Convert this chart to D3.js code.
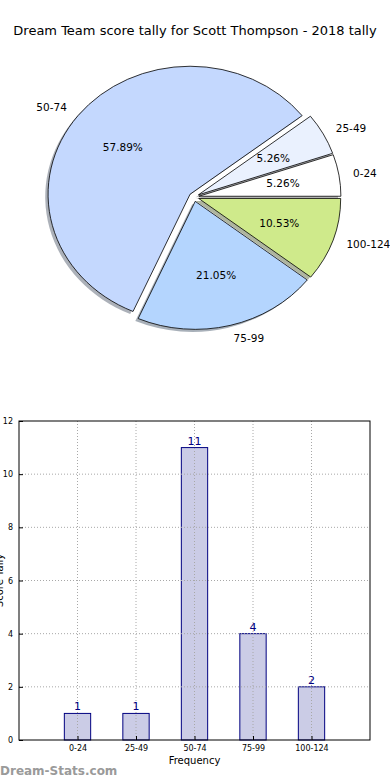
<!DOCTYPE html>
<html>
<head>
<meta charset="utf-8">
<script src="https://cdn.jsdelivr.net/npm/d3@7"></script>
<style>
  body { margin: 0; background: #fff; }
  text { font-family: "DejaVu Sans", sans-serif; }
</style>
</head>
<body>
<div id="chart"></div>
<script>
// score bands and how many games fell in each
var bands = ["0-24", "25-49", "50-74", "75-99", "100-124"];
var counts = [1, 1, 11, 4, 2];
var sliceColors = ["#ffffff", "#eaf1fe", "#c4d8fe", "#b4d5fe", "#cfea8b"];
var yTicks = [0, 2, 4, 6, 8, 10, 12];

var svgWidth = 390, svgHeight = 780;

var svg = d3.select("#chart")
  .append("svg")
  .attr("width", svgWidth)
  .attr("height", svgHeight);

svg.append("text")
  .attr("x", 195)
  .attr("y", 35)
  .attr("text-anchor", "middle")
  .attr("font-size", "13px")
  .text("Dream Team score tally for Scott Thompson - 2018 tally");

// ---------- pie (matplotlib style: counter-clockwise from 3 o'clock, squashed) ----------
var cx = 194, cy = 197, rx = 142, ry = 128;
var explode = 0.035;
var R = 100;
var total = d3.sum(counts);

var pie = d3.pie()
  .sort(null)
  .startAngle(Math.PI / 2)
  .endAngle(Math.PI / 2 - 2 * Math.PI);

var arcs = pie(counts);
var arc = d3.arc().innerRadius(0).outerRadius(R);

function offset(d, k) {
  var mid = (d.startAngle + d.endAngle) / 2;
  return [cx + explode * rx * Math.sin(mid) + k * rx * Math.sin(mid),
          cy - explode * ry * Math.cos(mid) - k * ry * Math.cos(mid)];
}

var pieGroup = svg.append("g");

// shadows first
pieGroup.selectAll("path.shadow")
  .data(arcs)
  .enter()
  .append("path")
  .classed("shadow", true)
  .attr("transform", function(d) {
    var o = offset(d, 0);
    return `translate(${o[0] - 0.02 * rx}, ${o[1] + 0.02 * ry}) scale(${rx / R}, ${ry / R})`;
  })
  .attr("d", arc)
  .attr("fill", function(d, i) { return d3.color(sliceColors[i]).darker(2.2); })
  .attr("opacity", 0.5);

pieGroup.selectAll("path.wedge")
  .data(arcs)
  .enter()
  .append("path")
  .classed("wedge", true)
  .attr("transform", function(d) {
    var o = offset(d, 0);
    return `translate(${o[0]}, ${o[1]}) scale(${rx / R}, ${ry / R})`;
  })
  .attr("d", arc)
  .attr("fill", function(d, i) { return sliceColors[i]; })
  .attr("stroke", "#000")
  .attr("stroke-width", 0.8)
  .attr("vector-effect", "non-scaling-stroke");

// band labels outside
pieGroup.selectAll("text.band")
  .data(arcs)
  .enter()
  .append("text")
  .classed("band", true)
  .attr("x", function(d) { return offset(d, 1.1)[0]; })
  .attr("y", function(d) { return offset(d, 1.1)[1]; })
  .attr("dy", "0.35em")
  .attr("font-size", "10.5px")
  .attr("text-anchor", function(d) {
    var mid = (d.startAngle + d.endAngle) / 2;
    return Math.sin(mid) > 0 ? "start" : "end";
  })
  .text(function(d, i) { return bands[i]; });

// percentages inside
pieGroup.selectAll("text.pct")
  .data(arcs)
  .enter()
  .append("text")
  .classed("pct", true)
  .attr("x", function(d) { return offset(d, 0.6)[0]; })
  .attr("y", function(d) { return offset(d, 0.6)[1]; })
  .attr("dy", "0.35em")
  .attr("font-size", "10.5px")
  .attr("text-anchor", "middle")
  .text(function(d) { return (d.value / total * 100).toFixed(2) + "%"; });

// ---------- bar chart ----------
var plotLeft = 19, plotRight = 370, plotTop = 421, plotBottom = 740;

var x = d3.scaleLinear().domain([-1, 5]).range([plotLeft, plotRight]);
var y = d3.scaleLinear().domain([0, 12]).range([plotBottom, plotTop]);
var barW = x(0.45) - x(0);

var barGroup = svg.append("g");

// bars
barGroup.selectAll("rect.bar")
  .data(counts)
  .enter()
  .append("rect")
  .classed("bar", true)
  .attr("x", function(d, i) { return x(i) - barW / 2; })
  .attr("y", function(d) { return y(d); })
  .attr("width", barW)
  .attr("height", function(d) { return y(0) - y(d); })
  .attr("fill", "#cbcce6")
  .attr("stroke", "#000080")
  .attr("stroke-width", 1);

// grid (dotted, on top)
barGroup.selectAll("line.ygrid")
  .data(yTicks.slice(1, -1))
  .enter()
  .append("line")
  .attr("x1", plotLeft).attr("x2", plotRight)
  .attr("y1", function(d) { return y(d); })
  .attr("y2", function(d) { return y(d); })
  .attr("stroke", "#a8a8a8")
  .attr("stroke-dasharray", "1,2");

barGroup.selectAll("line.xgrid")
  .data(bands)
  .enter()
  .append("line")
  .attr("y1", plotTop).attr("y2", plotBottom)
  .attr("x1", function(d, i) { return x(i); })
  .attr("x2", function(d, i) { return x(i); })
  .attr("stroke", "#a8a8a8")
  .attr("stroke-dasharray", "1,2");

// value labels
barGroup.selectAll("text.val")
  .data(counts)
  .enter()
  .append("text")
  .attr("x", function(d, i) { return x(i); })
  .attr("y", function(d) { return y(d) - 3; })
  .attr("text-anchor", "middle")
  .attr("font-size", "11px")
  .attr("fill", "#000080")
  .text(function(d) { return d; });

// axes
var leftAxis = d3.axisLeft(y).tickValues(yTicks).tickSize(-4).tickPadding(6);
var bottomAxis = d3.axisBottom(x).tickValues([0, 1, 2, 3, 4]).tickSize(-4).tickPadding(5)
  .tickFormat(function(d) { return bands[d]; });

var yAxis = barGroup.append("g")
  .attr("transform", `translate(${plotLeft}, 0)`)
  .call(leftAxis);
var xAxis = barGroup.append("g")
  .attr("transform", `translate(0, ${plotBottom})`)
  .call(bottomAxis);

[yAxis, xAxis].forEach(function(a) {
  a.select(".domain").remove();
  a.selectAll("text").attr("font-size", "8px").attr("font-family", "DejaVu Sans").attr("fill", "#000");
  a.selectAll("line").attr("stroke", "#000");
});

barGroup.append("rect")
  .attr("x", plotLeft).attr("y", plotTop)
  .attr("width", plotRight - plotLeft).attr("height", plotBottom - plotTop)
  .attr("fill", "none")
  .attr("stroke", "#000")
  .attr("stroke-width", 1);

barGroup.append("text")
  .attr("x", (plotLeft + plotRight) / 2)
  .attr("y", 764)
  .attr("text-anchor", "middle")
  .attr("font-size", "10px")
  .text("Frequency");

barGroup.append("text")
  .attr("transform", `translate(3, ${(plotTop + plotBottom) / 2}) rotate(-90)`)
  .attr("text-anchor", "middle")
  .attr("font-size", "10px")
  .text("Score Tally");

// watermark
svg.append("text")
  .attr("x", 0)
  .attr("y", 775)
  .attr("font-size", "12px")
  .attr("font-weight", "bold")
  .attr("fill", "#9a9a9a")
  .text("Dream-Stats.com");
</script>
</body>
</html>
